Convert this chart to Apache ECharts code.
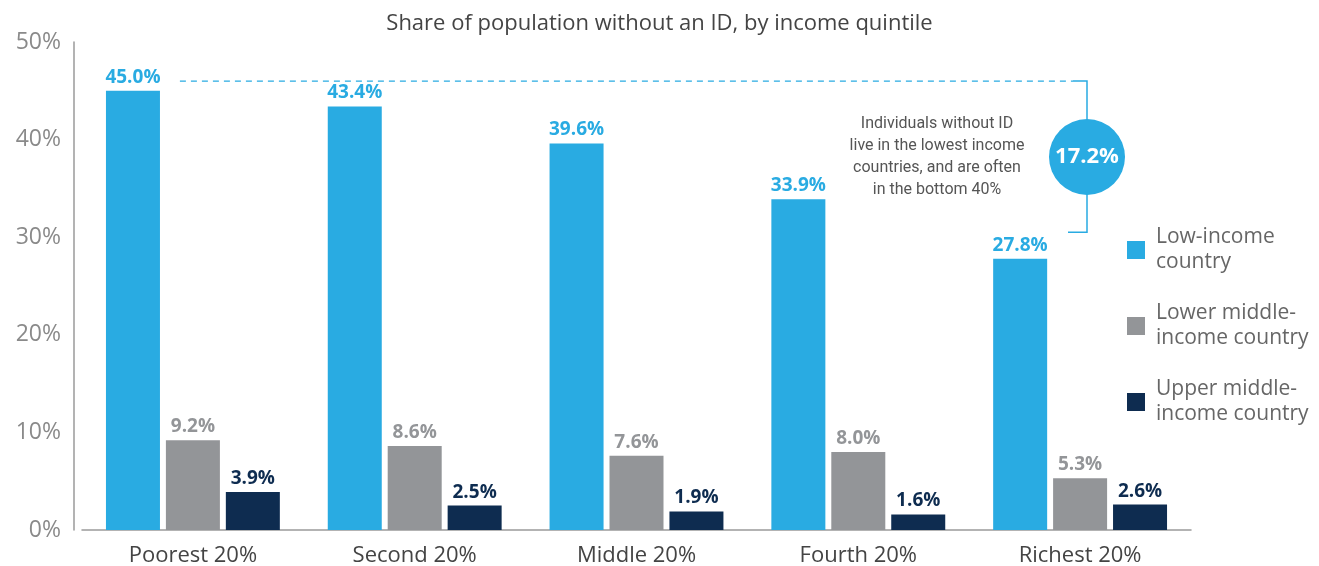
<!DOCTYPE html>
<html>
<head>
<meta charset="utf-8">
<script src="https://cdn.jsdelivr.net/npm/echarts@6/dist/echarts.min.js"></script>
<style>
  html, body { margin: 0; padding: 0; background: #fff; }
  #main { width: 1319px; height: 566px; }
</style>
</head>
<body>
<div id="main"></div>
<script>
// data
var categories = ['Poorest 20%', 'Second 20%', 'Middle 20%', 'Fourth 20%', 'Richest 20%'];
var lowIncome = [45.0, 43.4, 39.6, 33.9, 27.8];
var lowerMiddle = [9.2, 8.6, 7.6, 8.0, 5.3];
var upperMiddle = [3.9, 2.5, 1.9, 1.6, 2.6];
var seriesNames = ['Low-income country', 'Lower middle-income country', 'Upper middle-income country'];
var legendLabels = ['Low-income\ncountry', 'Lower middle-\nincome country', 'Upper middle-\nincome country'];
var yTicks = [0, 10, 20, 30, 40, 50];
var calloutValue = '17.2%';
var calloutNote = 'Individuals without ID\nlive in the lowest income\ncountries, and are often\nin the bottom 40%';

var BLUE = '#29abe2', GREY = '#939598', NAVY = '#0e2c50';
var mainFont = '"Open Sans", sans-serif';

var myChart = echarts.init(document.getElementById('main'));

function barSeries(name, data, color) {
    return {
        name: name,
        type: 'bar',
        data: data,
        barWidth: 54,
        barGap: '11%',
        itemStyle: { color: color },
        label: {
            show: true,
            position: 'top',
            distance: 4,
            formatter: function (p) { return p.value.toFixed(1) + '%'; },
            color: color,
            fontFamily: mainFont,
            fontWeight: 'bold',
            fontSize: 19
        }
    };
}

var option = {
    animation: false,
    title: {
        text: 'Share of population without an ID, by income quintile',
        left: 'center',
        top: 8,
        textStyle: { fontFamily: mainFont, fontWeight: 'normal', fontSize: 22, color: '#444' }
    },
    legend: {
        orient: 'vertical',
        left: 1122,
        top: 220,
        itemWidth: 18,
        itemHeight: 18,
        itemGap: 26,
        icon: 'rect',
        data: seriesNames,
        formatter: function (name) { return legendLabels[seriesNames.indexOf(name)]; },
        textStyle: { fontFamily: mainFont, fontSize: 21, lineHeight: 25, color: '#666', padding: [0, 0, 0, 6] }
    },
    grid: { left: 82, right: 128, top: 42, bottom: 36, outerBoundsMode: 'none' },
    xAxis: {
        type: 'category',
        data: categories,
        axisTick: { show: false },
        axisLine: { lineStyle: { color: '#9a9a9a', width: 1.5 } },
        axisLabel: { fontFamily: mainFont, fontSize: 22, color: '#444', margin: 15 }
    },
    yAxis: {
        type: 'value',
        min: yTicks[0],
        max: yTicks[yTicks.length - 1],
        interval: 10,
        offset: 8,
        splitLine: { show: false },
        axisLine: { show: true, lineStyle: { color: '#9a9a9a', width: 1.5 } },
        axisTick: { show: false },
        axisLabel: {
            formatter: '{value}%',
            fontFamily: mainFont,
            fontSize: 23,
            color: '#8a8a8a',
            margin: 13
        }
    },
    series: [
        barSeries(seriesNames[0], lowIncome, BLUE),
        barSeries(seriesNames[1], lowerMiddle, GREY),
        barSeries(seriesNames[2], upperMiddle, NAVY)
    ]
};

myChart.setOption(option);

// callout bracket placed from the axis scale
var yTop = myChart.convertToPixel({ yAxisIndex: 0 }, 46);
var yBot = myChart.convertToPixel({ yAxisIndex: 0 }, 30.5);
var xStart = myChart.convertToPixel({ xAxisIndex: 0 }, categories[0]) - 13;
var xBr = 1087;
var circleY = 157;

myChart.setOption({
    graphic: [
        {
            type: 'line',
            shape: { x1: xStart, y1: yTop, x2: xBr - 14, y2: yTop },
            style: { stroke: BLUE, lineWidth: 1.2, lineDash: [6, 5] }
        },
        {
            type: 'polyline',
            shape: { points: [[xBr - 14, yTop], [xBr, yTop], [xBr, yBot], [xBr - 19, yBot]] },
            style: { stroke: BLUE, lineWidth: 1.5, fill: null }
        },
        {
            type: 'circle',
            shape: { cx: xBr, cy: circleY, r: 38 },
            style: { fill: BLUE }
        },
        {
            type: 'text',
            x: xBr, y: circleY,
            style: {
                text: calloutValue, fill: '#fff', align: 'center', verticalAlign: 'middle',
                font: 'bold 22px ' + mainFont
            }
        },
        {
            type: 'text',
            x: 937, y: 157,
            style: {
                text: calloutNote, fill: '#555', align: 'center', verticalAlign: 'middle',
                lineHeight: 22,
                font: '16px "Liberation Sans Narrow", Roboto, sans-serif'
            }
        }
    ]
});

window.addEventListener('resize', function () { myChart.resize(); });
</script>
</body>
</html>
